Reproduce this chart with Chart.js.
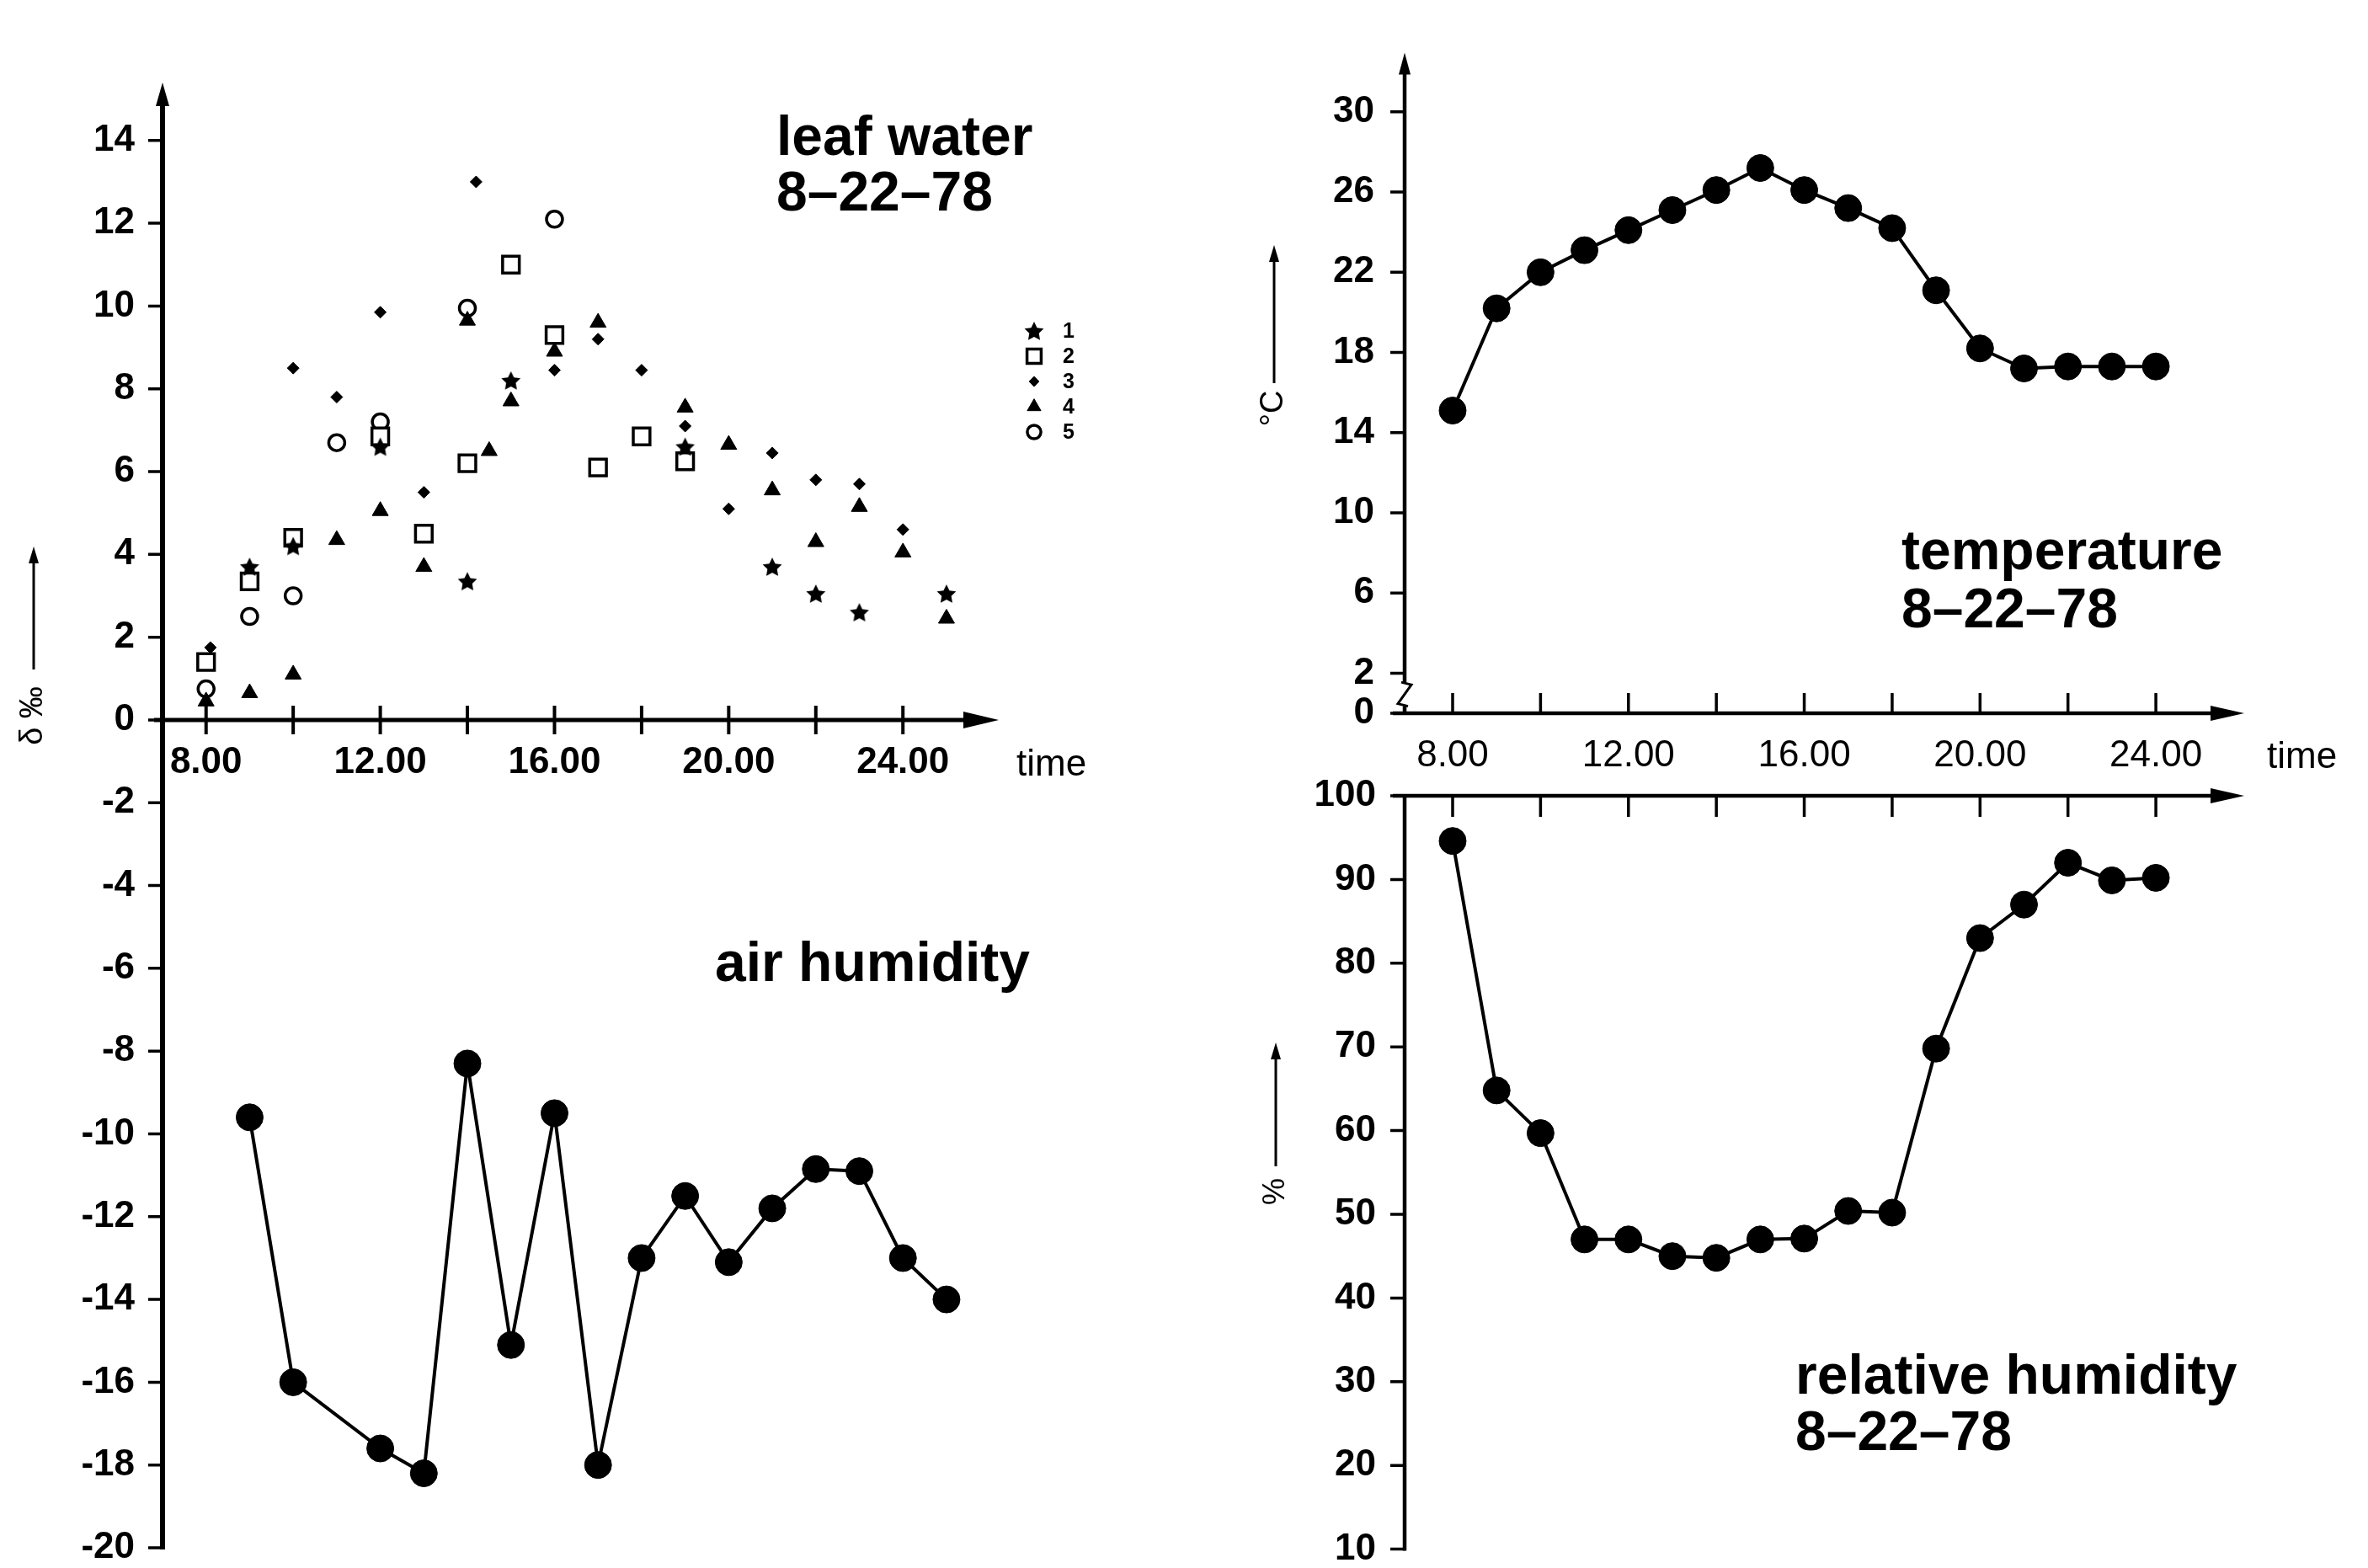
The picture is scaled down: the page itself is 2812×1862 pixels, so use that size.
<!DOCTYPE html>
<html>
<head>
<meta charset="utf-8">
<script src="https://cdn.jsdelivr.net/npm/chart.js@4.4.1/dist/chart.umd.min.js"></script>
<style>
  html, body { margin: 0; padding: 0; background: #fff; overflow: hidden; }
  canvas { position: absolute; left: 0; top: 0; }
</style>
</head>
<body>
<canvas id="leaf-chart" width="2812" height="1900"></canvas>
<canvas id="temp-chart" width="2812" height="1900"></canvas>
<canvas id="rh-chart" width="2812" height="1900"></canvas>
<script>
// ---- data ----
const airHours = [9, 10, 12, 13, 14, 15, 16, 17, 18, 19, 20, 21, 22, 23, 24, 25]
const airHumidity = [-9.6, -16.0, -17.6, -18.2, -8.3, -15.1, -9.5, -18.0, -13.0, -11.5, -13.1, -11.8, -10.85, -10.9, -13.0, -14.0]

const leaf1Hours = [9, 10, 12, 14, 15, 19, 21, 22, 23, 25]
const leaf1 = [3.7, 4.2, 6.6, 3.35, 8.2, 6.6, 3.7, 3.05, 2.6, 3.05]
const leaf2Hours = [8, 9, 10, 12, 13, 14, 15, 16, 17, 18, 19]
const leaf2 = [1.4, 3.35, 4.4, 6.85, 4.5, 6.2, 11.0, 9.3, 6.1, 6.85, 6.25]
const leaf3Hours = [8.1, 10, 11, 12, 13, 14.2, 16, 17, 18, 19, 20, 21, 22, 23, 24]
const leaf3 = [1.75, 8.5, 7.8, 9.85, 5.5, 13.0, 8.45, 9.2, 8.45, 7.1, 5.1, 6.45, 5.8, 5.7, 4.6]
const leaf4Hours = [8, 9, 10, 11, 12, 13, 14, 14.5, 15, 16, 17, 19, 20, 21, 22, 23, 24, 25]
const leaf4 = [0.45, 0.65, 1.1, 4.35, 5.05, 3.7, 9.65, 6.5, 7.7, 8.9, 9.6, 7.55, 6.65, 5.55, 4.3, 5.15, 4.05, 2.45]
const leaf5Hours = [8, 9, 10, 11, 12, 14, 16]
const leaf5 = [0.75, 2.5, 3.0, 6.7, 7.2, 9.95, 12.1]

const hours = [8, 9, 10, 11, 12, 13, 14, 15, 16, 17, 18, 19, 20, 21, 22, 23, 24]
const temperature = [15.1, 20.2, 22.0, 23.1, 24.1, 25.1, 26.1, 27.2, 26.1, 25.2, 24.2, 21.1, 18.2, 17.2, 17.3, 17.3, 17.3]
const relHumidity = [94.6, 64.8, 59.7, 47.0, 47.0, 45.0, 44.8, 47.0, 47.1, 50.4, 50.2, 69.8, 83.0, 87.0, 92.0, 89.9, 90.2]

const timeTicks = [8, 10, 12, 14, 16, 18, 20, 22, 24]
const leafTicks = [-20, -18, -16, -14, -12, -10, -8, -6, -4, -2, 0, 2, 4, 6, 8, 10, 12, 14]
const tempTicks = [0, 2, 6, 10, 14, 18, 22, 26, 30]
const rhTicks = [10, 20, 30, 40, 50, 60, 70, 80, 90, 100]

// ---- helpers ----
const W = 2812, H = 1900
const FONT = "'Liberation Sans', Arial, Helvetica, sans-serif"
Chart.defaults.font.family = FONT
Chart.defaults.color = '#000'

// padding so that the plot area lands on left/top/right/bottom,
// leaving yW px for the y scale box and xH px for a bottom x scale box
function area(left, top, right, bottom, yW, xH) {
  return { left: left - yW, top: top, right: W - right, bottom: H - bottom - (xH || 0) }
}
function pts(xs, ys) { return xs.map((x, i) => ({ x: x, y: ys[i] })) }
function fitWidth(n) { return function(s) { s.width = n } }
function fitHeight(n) { return function(s) { s.height = n } }
function fixedTicks(values) {
  return function(scale) { scale.ticks = values.map(v => ({ value: v })) }
}
function timeLabel(v) { return v % 4 === 0 ? v.toFixed(2) : '' }

function makeStar(r) {
  const c = document.createElement('canvas')
  c.width = c.height = Math.ceil(r * 2 + 2)
  const g = c.getContext('2d')
  const m = c.width / 2
  g.beginPath()
  for (let i = 0; i < 10; i++) {
    const rr = i % 2 ? r * 0.5 : r
    const a = -Math.PI / 2 + i * Math.PI / 5
    g.lineTo(m + rr * Math.cos(a), m + 1 + rr * Math.sin(a))
  }
  g.closePath()
  g.fillStyle = '#000'
  g.fill()
  return c
}
const starImg = makeStar(12)

function stroke(ctx, w, fn) {
  ctx.save()
  ctx.strokeStyle = '#000'
  ctx.lineWidth = w
  ctx.beginPath()
  fn()
  ctx.stroke()
  ctx.restore()
}
function fillPath(ctx, p) {
  ctx.save()
  ctx.fillStyle = '#000'
  ctx.beginPath()
  ctx.moveTo(p[0][0], p[0][1])
  for (let i = 1; i < p.length; i++) ctx.lineTo(p[i][0], p[i][1])
  ctx.closePath()
  ctx.fill()
  ctx.restore()
}
function text(ctx, s, x, y, size, weight) {
  ctx.save()
  ctx.fillStyle = '#000'
  ctx.font = (weight || 'normal') + ' ' + size + 'px ' + FONT
  ctx.textAlign = 'left'
  ctx.textBaseline = 'alphabetic'
  ctx.fillText(s, x, y)
  ctx.restore()
}
function unitLabel(ctx, s, x, yc, size, lineBottom, tip) {
  ctx.save()
  ctx.translate(x, yc)
  ctx.rotate(-Math.PI / 2)
  ctx.fillStyle = '#000'
  ctx.font = size + 'px ' + FONT
  ctx.textAlign = 'center'
  ctx.textBaseline = 'middle'
  ctx.fillText(s, 0, 0)
  ctx.restore()
  stroke(ctx, 3, () => { ctx.moveTo(x, lineBottom); ctx.lineTo(x, tip + 14) })
  fillPath(ctx, [[x, tip], [x - 6, tip + 20], [x + 6, tip + 20]])
}

function tickFont(weight) { return { size: 44, weight: weight || 'normal' } }

// ---- left: leaf water + air humidity ----
const leafAxes = {
  id: 'leafAxes',
  afterDraw(chart) {
    const ctx = chart.ctx, xs = chart.scales.x, ys = chart.scales.y, a = chart.chartArea
    const x0 = a.left, y0 = ys.getPixelForValue(0)
    stroke(ctx, 6, () => { ctx.moveTo(x0, a.bottom + 2); ctx.lineTo(x0, a.top + 20) })
    fillPath(ctx, [[x0, a.top], [x0 - 8, a.top + 28], [x0 + 8, a.top + 28]])
    stroke(ctx, 3.5, () => ys.ticks.forEach(t => {
      const y = ys.getPixelForValue(t.value)
      ctx.moveTo(x0 - 17, y); ctx.lineTo(x0, y)
    }))
    stroke(ctx, 5, () => { ctx.moveTo(x0 - 10, y0); ctx.lineTo(a.right - 30, y0) })
    fillPath(ctx, [[a.right, y0], [a.right - 42, y0 - 10], [a.right - 42, y0 + 10]])
    stroke(ctx, 4, () => xs.ticks.forEach(t => {
      const x = xs.getPixelForValue(t.value)
      ctx.moveTo(x, y0 - 17); ctx.lineTo(x, y0 + 17)
    }))
    text(ctx, 'time', 1207, 921, 44)
    unitLabel(ctx, 'δ ‰', 40, 850, 38, 795, 649)
    text(ctx, 'leaf water', 922, 184, 66, 'bold')
    text(ctx, '8–22–78', 922, 250, 66, 'bold')
    text(ctx, 'air humidity', 849, 1165, 66, 'bold')

    chart.data.datasets.slice(1).forEach((ds, i) => {
      const y = 393 + i * 30
      ctx.save()
      ctx.fillStyle = ds.pointBackgroundColor
      ctx.strokeStyle = ds.pointBorderColor
      ctx.lineWidth = ds.pointBorderWidth
      Chart.helpers.drawPoint(ctx, { pointStyle: ds.pointStyle, radius: ds.pointRadius * 0.85, borderWidth: ds.pointBorderWidth, rotation: 0 }, 1228, y)
      ctx.restore()
      ctx.save()
      ctx.fillStyle = '#000'
      ctx.font = 'bold 25px ' + FONT
      ctx.textBaseline = 'middle'
      ctx.fillText(ds.label, 1262, y + 1)
      ctx.restore()
    })
  }
}

function leafSet(label, xs, ys, style, radius, bg, bw) {
  return {
    label: label, data: pts(xs, ys), showLine: false,
    pointStyle: style, pointRadius: radius,
    pointBackgroundColor: bg, pointBorderColor: '#000', pointBorderWidth: bw
  }
}

new Chart(document.getElementById('leaf-chart'), {
  type: 'scatter',
  data: {
    datasets: [
      {
        label: 'air humidity', data: pts(airHours, airHumidity), showLine: true,
        borderColor: '#000', borderWidth: 4, tension: 0,
        pointRadius: 16, pointBackgroundColor: '#000', pointBorderColor: '#000', pointBorderWidth: 1
      },
      leafSet('1', leaf1Hours, leaf1, starImg, 12, '#000', 0),
      leafSet('2', leaf2Hours, leaf2, 'rect', 14, '#fff', 3.5),
      leafSet('3', leaf3Hours, leaf3, 'rectRot', 7, '#000', 1),
      leafSet('4', leaf4Hours, leaf4, 'triangle', 11, '#000', 1),
      leafSet('5', leaf5Hours, leaf5, 'circle', 9.5, '#fff', 3.5)
    ]
  },
  options: {
    responsive: false, animation: false, devicePixelRatio: 1,
    layout: { padding: area(193, 98, 1186, 1838, 170) },
    scales: {
      x: {
        type: 'linear', min: 7, max: 26.2, position: { y: 0 },
        afterFit: fitHeight(0), afterBuildTicks: fixedTicks(timeTicks),
        grid: { display: false, drawTicks: false }, border: { display: false },
        ticks: { autoSkip: false, maxRotation: 0, padding: 25, font: tickFont('bold'), callback: timeLabel }
      },
      y: {
        type: 'linear', min: -20, max: 15.4,
        afterFit: fitWidth(170), afterBuildTicks: fixedTicks(leafTicks),
        grid: { display: false, drawTicks: false }, border: { display: false },
        ticks: { autoSkip: false, padding: 33, font: tickFont('bold') }
      }
    },
    plugins: { legend: { display: false }, tooltip: { enabled: false } }
  },
  plugins: [leafAxes]
})

// ---- right top: temperature ----
const tempAxes = {
  id: 'tempAxes',
  afterDraw(chart) {
    const ctx = chart.ctx, xs = chart.scales.x, ys = chart.scales.y, a = chart.chartArea
    const x0 = a.left, y0 = a.bottom
    stroke(ctx, 4.5, () => { ctx.moveTo(x0, y0); ctx.lineTo(x0, a.top + 20) })
    fillPath(ctx, [[x0, a.top], [x0 - 7, a.top + 26], [x0 + 7, a.top + 26]])
    // axis break between 0 and 2
    const b1 = ys.getPixelForValue(1.55), b2 = ys.getPixelForValue(0.35)
    ctx.save(); ctx.fillStyle = '#fff'; ctx.fillRect(x0 - 4, b1, 8, b2 - b1); ctx.restore()
    stroke(ctx, 3, () => {
      ctx.moveTo(x0 - 4, b1); ctx.lineTo(x0 + 8, b1 + 3)
      ctx.lineTo(x0 - 8, b2 - 3); ctx.lineTo(x0 + 4, b2)
    })
    stroke(ctx, 3.5, () => ys.ticks.forEach(t => {
      const y = ys.getPixelForValue(t.value)
      ctx.moveTo(x0 - 17, y); ctx.lineTo(x0, y)
    }))
    stroke(ctx, 4.5, () => { ctx.moveTo(x0 - 14, y0); ctx.lineTo(a.right - 30, y0) })
    fillPath(ctx, [[a.right, y0], [a.right - 40, y0 - 9], [a.right - 40, y0 + 9]])
    stroke(ctx, 3.5, () => xs.ticks.forEach(t => {
      const x = xs.getPixelForValue(t.value)
      ctx.moveTo(x, y0 - 24); ctx.lineTo(x, y0)
    }))
    text(ctx, 'time', 2692, 912, 44)
    unitLabel(ctx, '°C', 1513, 485, 38, 455, 291)
    text(ctx, 'temperature', 2258, 676, 66, 'bold')
    text(ctx, '8–22–78', 2258, 745, 66, 'bold')
  }
}

new Chart(document.getElementById('temp-chart'), {
  type: 'line',
  data: {
    datasets: [{
      label: 'temperature', data: pts(hours, temperature),
      borderColor: '#000', borderWidth: 4, tension: 0,
      pointRadius: 16, pointBackgroundColor: '#000', pointBorderColor: '#000', pointBorderWidth: 1
    }]
  },
  options: {
    responsive: false, animation: false, devicePixelRatio: 1,
    layout: { padding: area(1668, 27, 2665, 847, 200, 80) },
    scales: {
      x: {
        type: 'linear', min: 6.908, max: 26.01, position: 'bottom',
        afterFit: fitHeight(80), afterBuildTicks: fixedTicks(timeTicks),
        grid: { display: false, drawTicks: false }, border: { display: false },
        ticks: { autoSkip: false, maxRotation: 0, padding: 24, font: tickFont(), callback: timeLabel }
      },
      y: {
        type: 'linear', min: 0, max: 32.96,
        afterFit: fitWidth(200), afterBuildTicks: fixedTicks(tempTicks),
        grid: { display: false, drawTicks: false }, border: { display: false },
        ticks: { autoSkip: false, padding: 36, font: tickFont('bold') }
      }
    },
    plugins: { legend: { display: false }, tooltip: { enabled: false } }
  },
  plugins: [tempAxes]
})

// ---- right bottom: relative humidity ----
const rhAxes = {
  id: 'rhAxes',
  afterDraw(chart) {
    const ctx = chart.ctx, xs = chart.scales.x, ys = chart.scales.y, a = chart.chartArea
    const x0 = a.left, y0 = a.top
    stroke(ctx, 4.5, () => { ctx.moveTo(x0, y0); ctx.lineTo(x0, a.bottom + 2) })
    stroke(ctx, 3.5, () => ys.ticks.forEach(t => {
      const y = ys.getPixelForValue(t.value)
      ctx.moveTo(x0 - 17, y); ctx.lineTo(x0, y)
    }))
    stroke(ctx, 4.5, () => { ctx.moveTo(x0 - 14, y0); ctx.lineTo(a.right - 30, y0) })
    fillPath(ctx, [[a.right, y0], [a.right - 40, y0 - 9], [a.right - 40, y0 + 9]])
    stroke(ctx, 3.5, () => xs.ticks.forEach(t => {
      const x = xs.getPixelForValue(t.value)
      ctx.moveTo(x, y0); ctx.lineTo(x, y0 + 25)
    }))
    unitLabel(ctx, '%', 1515, 1415, 36, 1385, 1238)
    text(ctx, 'relative humidity', 2132, 1655, 66, 'bold')
    text(ctx, '8–22–78', 2132, 1722, 66, 'bold')
  }
}

new Chart(document.getElementById('rh-chart'), {
  type: 'line',
  data: {
    datasets: [{
      label: 'relative humidity', data: pts(hours, relHumidity),
      borderColor: '#000', borderWidth: 4, tension: 0,
      pointRadius: 16, pointBackgroundColor: '#000', pointBorderColor: '#000', pointBorderWidth: 1
    }]
  },
  options: {
    responsive: false, animation: false, devicePixelRatio: 1,
    layout: { padding: area(1668, 945, 2665, 1842, 200) },
    scales: {
      x: {
        type: 'linear', min: 6.908, max: 26.01, position: 'top',
        afterFit: fitHeight(0), afterBuildTicks: fixedTicks(timeTicks),
        grid: { display: false, drawTicks: false }, border: { display: false },
        ticks: { display: false }
      },
      y: {
        type: 'linear', min: 10, max: 100,
        afterFit: fitWidth(200), afterBuildTicks: fixedTicks(rhTicks),
        grid: { display: false, drawTicks: false }, border: { display: false },
        ticks: { autoSkip: false, padding: 34, font: tickFont('bold') }
      }
    },
    plugins: { legend: { display: false }, tooltip: { enabled: false } }
  },
  plugins: [rhAxes]
})
</script>
</body>
</html>
